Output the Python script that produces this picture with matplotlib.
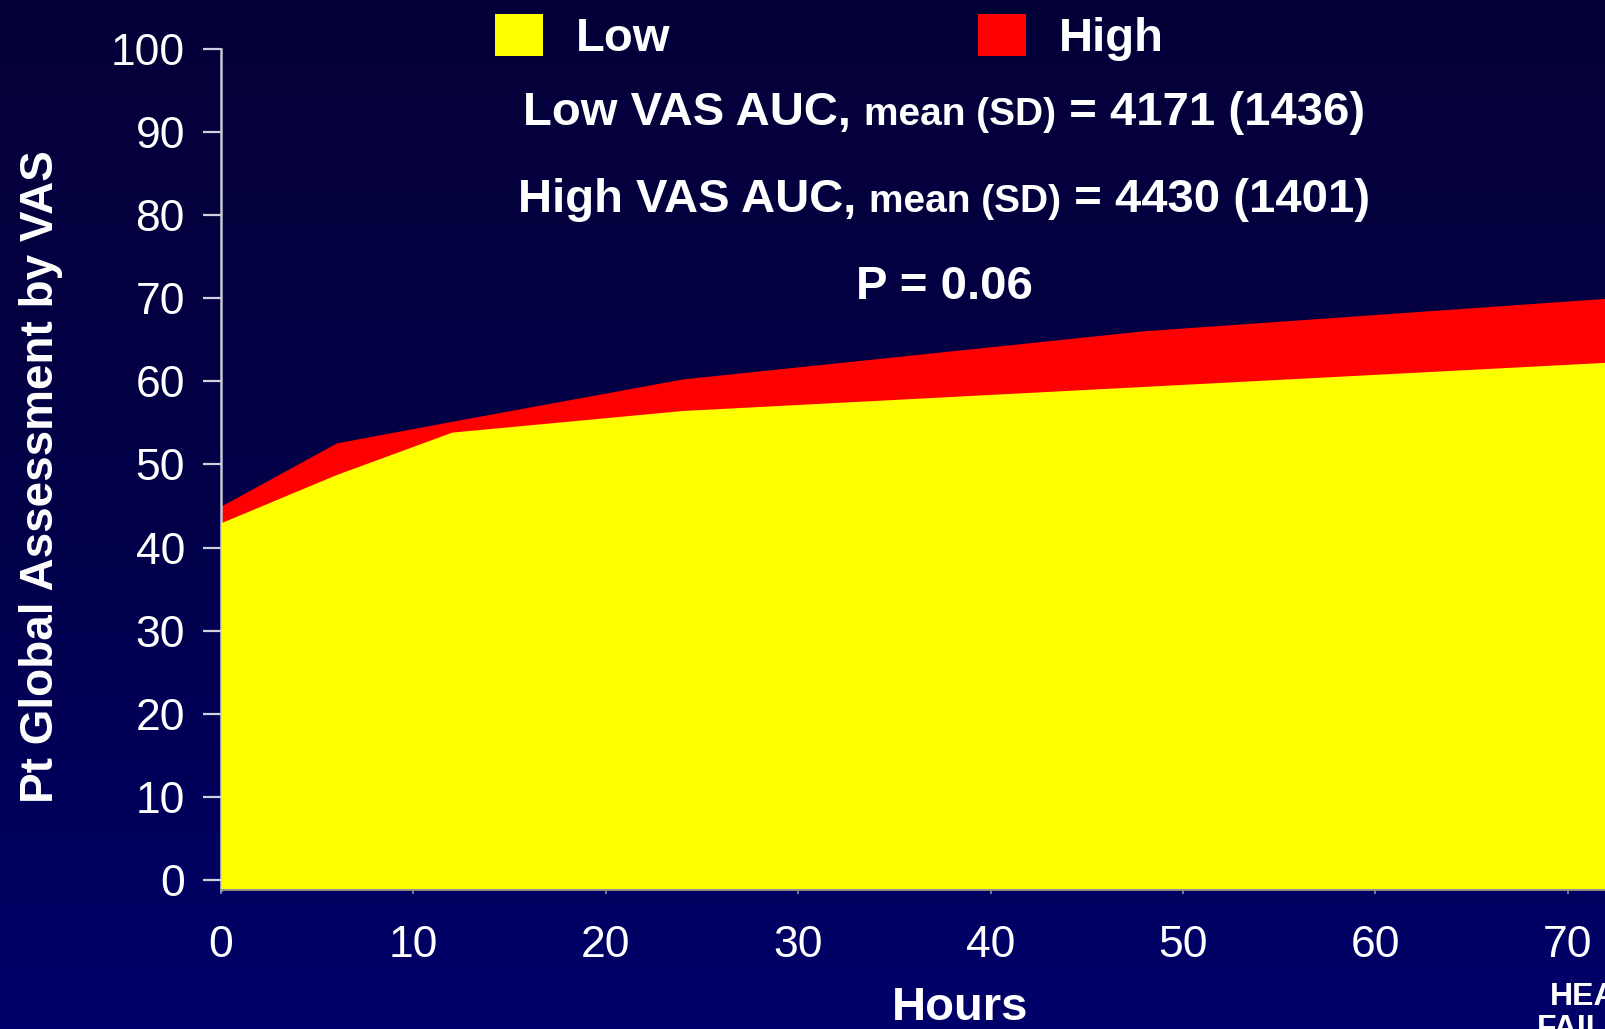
import numpy as np
import matplotlib
matplotlib.use("Agg")
import matplotlib.pyplot as plt
from matplotlib.colors import LinearSegmentedColormap
from matplotlib.patches import Patch
from matplotlib.offsetbox import TextArea, HPacker, AnchoredOffsetbox

plt.rcParams['font.family'] = ['Liberation Sans', 'DejaVu Sans']

# data
hours = [0, 6, 12, 24, 48, 72]
low_vas = [43.0, 48.8, 53.9, 56.5, 59.4, 62.3]
high_vas = [45.0, 52.6, 55.2, 60.3, 66.1, 70.0]
series_names = ['Low', 'High']
series_colors = ['#ffff00', '#ff0000']
x_ticks = [0, 10, 20, 30, 40, 50, 60, 70]
y_ticks = [0, 10, 20, 30, 40, 50, 60, 70, 80, 90, 100]

fig = plt.figure(figsize=(16.05, 10.29), dpi=100)

# navy gradient background
bg = fig.add_axes([0, 0, 1, 1], zorder=-5)
grad = np.linspace(0, 1, 256).reshape(-1, 1)
cmap = LinearSegmentedColormap.from_list('bg', ['#040038', '#020048', '#00006a'])
bg.imshow(grad, aspect='auto', cmap=cmap, extent=[0, 1, 0, 1], origin='upper')
bg.axis('off')

ax = fig.add_axes([0.1377, 0.1351, 1 - 0.1377, 0.9524 - 0.1351])
ax.patch.set_alpha(0)
ybot = -1.2
ax.set_xlim(0, 71.93)
ax.set_ylim(ybot, 100)

ax.fill_between(hours, high_vas, ybot, color=series_colors[1], lw=0, zorder=2)
ax.fill_between(hours, low_vas, ybot, color=series_colors[0], lw=0, zorder=3)

for s in ['top', 'right']:
    ax.spines[s].set_visible(False)
ax.spines['left'].set_color('#c8c8d4')
ax.spines['left'].set_linewidth(1.8)
ax.spines['left'].set_bounds(ybot, 100)
ax.spines['bottom'].set_color('#7a8a9a')
ax.spines['bottom'].set_linewidth(1.2)
ax.spines['bottom'].set_zorder(4)

ax.set_yticks(y_ticks)
ax.set_xticks(x_ticks)
ax.tick_params(axis='y', direction='out', length=13, width=1.6, color='#d0d0dc',
               labelcolor='white', labelsize=32, pad=13)
ax.tick_params(axis='x', direction='out', length=3, width=1.2, color='#8090a0',
               labelcolor='white', labelsize=32, pad=22)

ax.set_ylabel('Pt Global Assessment by VAS', fontsize=33, fontweight='bold', color='white')
ax.yaxis.label.set_va('center')
ax.yaxis.set_label_coords(-0.130, 0.492)
ax.set_xlabel('Hours', fontsize=34, fontweight='bold', color='white')
ax.xaxis.label.set_va('center')
ax.xaxis.set_label_coords(0.534, -0.140)

# legend
handles = [Patch(facecolor=c, edgecolor='none') for c in series_colors]
leg = ax.legend(handles, series_names, ncol=2, loc='upper left',
                bbox_to_anchor=(495 / 1605, 1 - 14 / 1029), bbox_transform=fig.transFigure,
                frameon=False, borderpad=0, borderaxespad=0,
                handlelength=1.02, handleheight=0.98, handletextpad=0.7,
                columnspacing=6.5, prop={'size': 34, 'weight': 'bold'})
for t in leg.get_texts():
    t.set_color('white')


def auc_line(parts, y):
    boxes = [TextArea(txt, textprops=dict(color='white', fontsize=sz, fontweight='bold'))
             for txt, sz in parts]
    pack = HPacker(children=boxes, align='baseline', pad=0, sep=0)
    ab = AnchoredOffsetbox(loc='center', child=pack, frameon=False, pad=0, borderpad=0,
                           bbox_to_anchor=(944 / 1605, 1 - y / 1029),
                           bbox_transform=fig.transFigure)
    fig.add_artist(ab)


auc_line([('Low VAS AUC, ', 34), ('mean (SD)', 28), (' = 4171 (1436)', 34)], 113)
auc_line([('High VAS AUC, ', 34), ('mean (SD)', 28), (' = 4430 (1401)', 34)], 200)
fig.text(944 / 1605, 1 - 287 / 1029, 'P = 0.06', color='white', fontsize=34,
         fontweight='bold', ha='center', va='center')

# caption running off the slide's corner, as in the original
fig.text(1605 / 1605, 1 - 1013 / 1029, 'HEART\nFAILURE', color='white', fontsize=23,
         fontweight='bold', ha='center', va='center', linespacing=1.05)

fig.savefig('out.png', dpi=100)
